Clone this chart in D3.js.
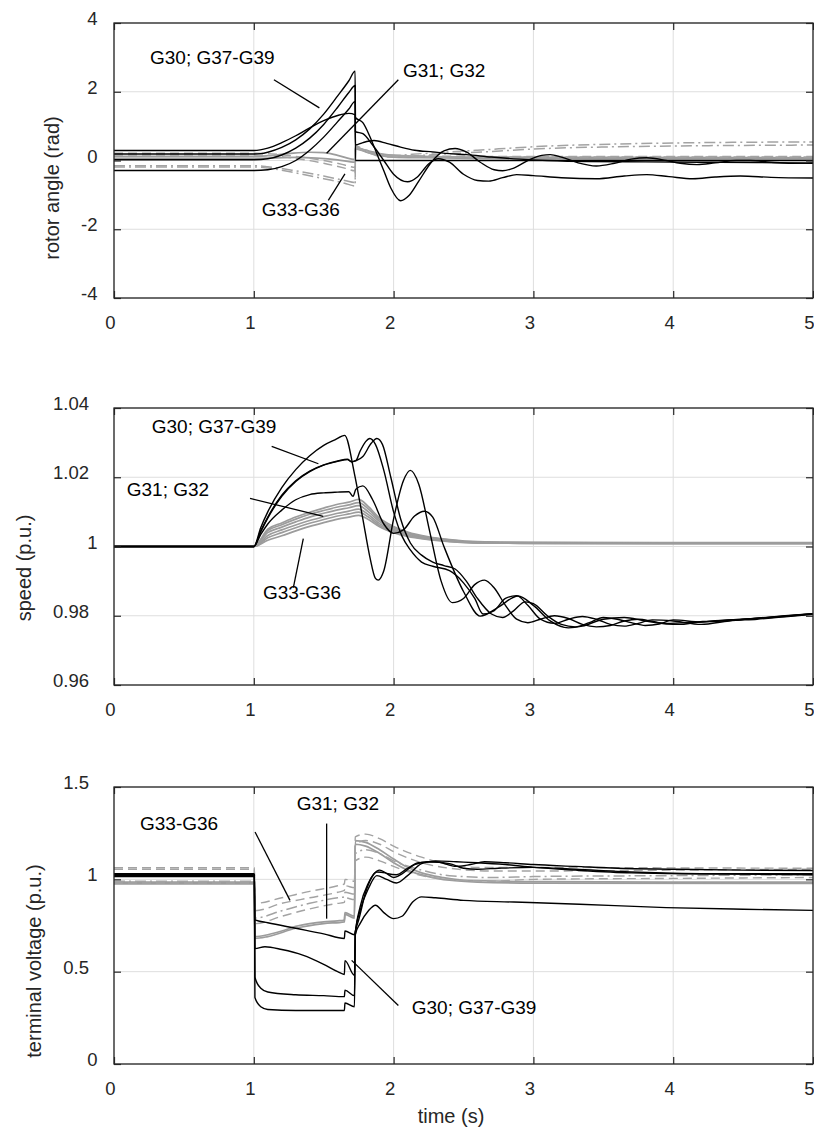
<!DOCTYPE html>
<html>
<head>
<meta charset="utf-8">
<script src="https://cdn.jsdelivr.net/npm/d3@7"></script>
<style>
  body { margin: 0; background: #fff; }
  text { font-family: "Liberation Sans", Arial, Helvetica, sans-serif; }
</style>
</head>
<body>
<svg id="fig" width="814" height="1132"></svg>
<script>
// ---------- tick values ----------
const timeTicks  = [0, 1, 2, 3, 4, 5];
const angleTicks = [-4, -2, 0, 2, 4];
const speedTicks = [0.96, 0.98, 1, 1.02, 1.04];
const voltTicks  = [0, 0.5, 1, 1.5];

// ---------- rotor angle (rad) vs time (s) ----------
const angleGen30 = [[0,0.19],[1.0,0.19],[1.05,0.2],[1.1,0.24],[1.2,0.38],[1.3,0.6],[1.4,0.92],[1.5,1.35],[1.6,1.88],[1.68,2.32],[1.725,2.6],[1.727,0.0],[3,0.0],[5,0.0]];
const angleGen37 = [[0,0.02],[1.0,0.02],[1.1,0.05],[1.2,0.16],[1.3,0.36],[1.4,0.65],[1.5,1.05],[1.6,1.55],[1.68,1.98],[1.725,2.18],[1.727,1.25],[1.78,1.1],[1.83,0.7],[1.88,0.2],[1.93,-0.3],[1.98,-0.8],[2.05,-1.17],[2.11,-1.02],[2.18,-0.6],[2.27,-0.05],[2.36,0.28],[2.44,0.35],[2.52,0.25],[2.62,-0.05],[2.72,-0.27],[2.78,-0.3],[2.86,-0.22],[2.97,0.02],[3.06,0.15],[3.12,0.17],[3.2,0.1],[3.32,-0.07],[3.45,-0.16],[3.58,-0.08],[3.7,0.04],[3.81,0.08],[3.95,0.0],[4.05,-0.08],[4.17,-0.12],[4.3,-0.07],[4.45,0.0],[4.55,0.0],[4.7,-0.05],[4.85,-0.08],[5,-0.07]];
const angleGen38 = [[0,-0.29],[1.0,-0.29],[1.1,-0.27],[1.2,-0.18],[1.3,0.0],[1.4,0.3],[1.5,0.68],[1.6,1.13],[1.68,1.5],[1.725,1.72],[1.727,0.84],[1.78,0.78],[1.85,0.45],[1.93,0.0],[2.0,-0.4],[2.1,-0.62],[2.17,-0.48],[2.25,-0.1],[2.32,0.05],[2.4,-0.05],[2.5,-0.4],[2.6,-0.58],[2.68,-0.6],[2.78,-0.5],[2.88,-0.41],[3.0,-0.44],[3.2,-0.5],[3.45,-0.53],[3.65,-0.45],[3.81,-0.41],[3.97,-0.47],[4.14,-0.53],[4.3,-0.48],[4.48,-0.45],[4.7,-0.49],[5,-0.51]];
const angleGen39 = [[0,0.29],[1.0,0.29],[1.1,0.36],[1.2,0.52],[1.3,0.72],[1.4,0.95],[1.5,1.16],[1.6,1.31],[1.68,1.37],[1.725,1.33],[1.727,0.45],[1.78,0.52],[1.86,0.58],[1.95,0.5],[2.05,0.39],[2.15,0.3],[2.28,0.25],[2.4,0.2],[2.52,0.17],[2.7,0.1],[2.9,0.04],[3.1,0.0],[3.4,-0.03],[3.8,-0.04],[4.2,-0.05],[4.6,-0.06],[5,-0.08]];
const angleGen31 = [[0,0.12],[1.0,0.12],[1.1,0.14],[1.25,0.2],[1.4,0.24],[1.5,0.23],[1.6,0.15],[1.725,0.03],[1.727,0.38],[1.8,0.3],[1.9,0.2],[2.0,0.15],[2.2,0.12],[2.6,0.1],[3.5,0.09],[5,0.08]];
const angleGen32 = [[0,0.06],[1.0,0.06],[1.1,0.07],[1.3,0.09],[1.45,0.07],[1.6,0.02],[1.725,-0.05],[1.727,0.34],[1.8,0.25],[1.9,0.15],[2.0,0.1],[2.2,0.08],[2.6,0.06],[3.5,0.05],[5,0.05]];
const angleGen33 = [[0,0.21],[1,0.21],[1.1,0.2],[1.3,0.12],[1.5,0.0],[1.65,-0.13],[1.725,-0.2],[1.727,0.38],[1.8,0.3],[1.9,0.2],[2.0,0.15],[2.3,0.13],[2.8,0.12],[3.5,0.12],[5,0.12]];
const angleGen34 = [[0,0.16],[1,0.16],[1.1,0.15],[1.3,0.06],[1.5,-0.08],[1.65,-0.22],[1.725,-0.3],[1.727,0.35],[1.8,0.26],[1.9,0.17],[2.0,0.12],[2.3,0.1],[2.8,0.1],[3.5,0.1],[5,0.1]];
const angleGen35 = [[0,-0.15],[1,-0.15],[1.1,-0.18],[1.3,-0.3],[1.5,-0.45],[1.65,-0.58],[1.725,-0.64],[1.727,0.42],[1.8,0.3],[1.9,0.16],[2.0,0.15],[2.2,0.2],[2.6,0.3],[3.1,0.42],[3.6,0.48],[4.2,0.52],[5,0.54]];
const angleGen36 = [[0,-0.19],[1,-0.19],[1.1,-0.22],[1.3,-0.36],[1.5,-0.53],[1.65,-0.66],[1.725,-0.74],[1.727,0.38],[1.8,0.26],[1.9,0.12],[2.0,0.1],[2.2,0.15],[2.6,0.24],[3.1,0.35],[3.6,0.4],[4.2,0.43],[5,0.45]];

// ---------- speed (p.u.) vs time (s) ----------
const speedGen30 = [[0,1],[1,1],[1.05,1.0055],[1.1,1.0100],[1.2,1.0170],[1.3,1.0222],[1.4,1.0262],[1.5,1.0292],[1.58,1.0308],[1.65,1.0321],[1.72,1.021],[1.78,1.008],[1.83,0.997],[1.87,0.9908],[1.89,0.9903],[1.93,0.993],[2.0,1.008],[2.07,1.019],[2.12,1.022],[2.18,1.018],[2.26,1.004],[2.34,0.99],[2.42,0.9838],[2.5,0.985],[2.58,0.989],[2.65,0.9903],[2.72,0.988],[2.8,0.983],[2.88,0.979],[2.96,0.978],[3.05,0.979],[3.15,0.980],[3.25,0.9792],[3.35,0.9775],[3.45,0.9768],[3.55,0.9772],[3.65,0.9785],[3.75,0.979],[3.85,0.9784],[3.95,0.9776],[4.05,0.9775],[4.15,0.978],[4.3,0.9785],[4.5,0.979],[4.7,0.9795],[4.85,0.980],[5,0.9806]];
const speedGen37 = [[0,1],[1,1],[1.05,1.0045],[1.1,1.0085],[1.2,1.0148],[1.3,1.0190],[1.4,1.0218],[1.5,1.0236],[1.6,1.0247],[1.67,1.0252],[1.7,1.0245],[1.73,1.0248],[1.76,1.0275],[1.8,1.0303],[1.83,1.0312],[1.87,1.0295],[1.93,1.022],[2.0,1.01],[2.06,1.003],[2.12,0.999],[2.2,0.9955],[2.28,0.9943],[2.4,0.993],[2.5,0.9895],[2.58,0.985],[2.64,0.9805],[2.72,0.9815],[2.8,0.985],[2.88,0.9858],[2.96,0.983],[3.05,0.979],[3.15,0.9778],[3.25,0.979],[3.35,0.9798],[3.45,0.979],[3.55,0.9775],[3.65,0.977],[3.75,0.9778],[3.85,0.9788],[4.0,0.9785],[4.2,0.9775],[4.4,0.9785],[4.6,0.979],[4.8,0.9797],[5,0.9804]];
const speedGen38 = [[0,1],[1,1],[1.05,1.0043],[1.1,1.0082],[1.2,1.0145],[1.3,1.0188],[1.4,1.0216],[1.5,1.0235],[1.6,1.0246],[1.67,1.0251],[1.7,1.0244],[1.73,1.0248],[1.78,1.026],[1.84,1.0298],[1.88,1.0312],[1.92,1.0295],[1.98,1.02],[2.05,1.008],[2.12,1.001],[2.2,0.9975],[2.28,0.9955],[2.36,0.9945],[2.44,0.9935],[2.52,0.99],[2.6,0.985],[2.7,0.9805],[2.78,0.9795],[2.86,0.9815],[2.94,0.984],[3.0,0.9835],[3.1,0.980],[3.2,0.9775],[3.3,0.9768],[3.4,0.978],[3.5,0.9795],[3.6,0.979],[3.7,0.978],[3.8,0.9772],[3.9,0.9776],[4.0,0.9788],[4.2,0.9782],[4.4,0.9786],[4.6,0.9793],[4.8,0.980],[5,0.9806]];
const speedGen39 = [[0,1],[1,1],[1.05,1.0035],[1.1,1.0065],[1.2,1.0105],[1.3,1.0135],[1.4,1.015],[1.5,1.0155],[1.6,1.0157],[1.68,1.0158],[1.71,1.0145],[1.73,1.0165],[1.78,1.0175],[1.85,1.0135],[1.93,1.0065],[2.0,1.0038],[2.07,1.0048],[2.15,1.0088],[2.22,1.0102],[2.28,1.0085],[2.36,1.0],[2.5,0.987],[2.62,0.9799],[2.75,0.9825],[2.89,0.9857],[3.0,0.983],[3.12,0.9785],[3.25,0.9765],[3.35,0.977],[3.5,0.979],[3.65,0.9795],[3.8,0.9785],[3.95,0.9778],[4.1,0.978],[4.3,0.9786],[4.5,0.979],[4.7,0.9796],[5,0.9806]];
const speedGen31 = [[0,1],[1,1],[1.1,1.0050],[1.2,1.0068],[1.3,1.0085],[1.4,1.0099],[1.5,1.0111],[1.6,1.0122],[1.68,1.0128],[1.75,1.0136],[1.82,1.0115],[1.9,1.0082],[2.0,1.0058],[2.1,1.0042],[2.25,1.0028],[2.4,1.002],[2.6,1.0014],[3,1.0012],[4,1.0011],[5,1.0011]];
const speedGen32 = [[0,1],[1,1],[1.1,1.0046],[1.2,1.0063],[1.3,1.0079],[1.4,1.0093],[1.5,1.0104],[1.6,1.0114],[1.68,1.0120],[1.75,1.0127],[1.82,1.0108],[1.9,1.0077],[2.0,1.0054],[2.1,1.0039],[2.25,1.0026],[2.4,1.0019],[2.6,1.0013],[3,1.0011],[4,1.001],[5,1.001]];
const speedGen33 = [[0,1],[1,1],[1.1,1.0040],[1.2,1.0056],[1.3,1.0071],[1.4,1.0085],[1.5,1.0096],[1.6,1.0106],[1.68,1.0112],[1.75,1.0118],[1.82,1.0100],[1.9,1.0072],[2.0,1.0050],[2.1,1.0036],[2.25,1.0024],[2.4,1.0017],[2.6,1.0012],[3,1.001],[4,1.001],[5,1.001]];
const speedGen34 = [[0,1],[1,1],[1.1,1.0032],[1.2,1.0048],[1.3,1.0062],[1.4,1.0075],[1.5,1.0086],[1.6,1.0096],[1.68,1.0102],[1.75,1.0108],[1.82,1.0092],[1.9,1.0066],[2.0,1.0046],[2.1,1.0033],[2.25,1.0022],[2.4,1.0016],[2.6,1.0011],[3,1.001],[4,1.0009],[5,1.0009]];
const speedGen35 = [[0,1],[1,1],[1.1,1.0025],[1.2,1.0040],[1.3,1.0054],[1.4,1.0067],[1.5,1.0078],[1.6,1.0088],[1.68,1.0094],[1.75,1.0099],[1.82,1.0085],[1.9,1.0061],[2.0,1.0043],[2.1,1.0031],[2.25,1.0021],[2.4,1.0015],[2.6,1.0011],[3,1.0009],[4,1.0009],[5,1.0009]];
const speedGen36 = [[0,1],[1,1],[1.1,1.0018],[1.2,1.0031],[1.3,1.0045],[1.4,1.0058],[1.5,1.0069],[1.6,1.0079],[1.68,1.0085],[1.75,1.0090],[1.82,1.0078],[1.9,1.0057],[2.0,1.0040],[2.1,1.0029],[2.25,1.002],[2.4,1.0014],[2.6,1.001],[3,1.0009],[4,1.0008],[5,1.0008]];

// ---------- terminal voltage (p.u.) vs time (s) ----------
const voltGen30 = [[0,1.03],[1.004,1.03],[1.008,0.78],[1.1,0.765],[1.3,0.735],[1.5,0.705],[1.648,0.68],[1.652,0.72],[1.72,0.70],[1.726,0.72],[1.75,0.78],[1.8,0.93],[1.86,1.03],[1.9,1.05],[1.96,1.03],[2.02,1.025],[2.1,1.06],[2.18,1.09],[2.3,1.095],[2.45,1.07],[2.55,1.08],[2.65,1.095],[2.8,1.09],[3.0,1.08],[3.3,1.07],[3.6,1.06],[4,1.055],[4.5,1.05],[5,1.048]];
const voltGen37 = [[0,1.02],[1.004,1.02],[1.008,0.625],[1.08,0.635],[1.2,0.62],[1.35,0.59],[1.5,0.54],[1.6,0.5],[1.648,0.485],[1.652,0.56],[1.72,0.48],[1.726,0.70],[1.76,0.85],[1.82,0.98],[1.88,1.04],[1.94,1.035],[2.0,1.01],[2.06,1.03],[2.15,1.08],[2.25,1.095],[2.4,1.085],[2.5,1.06],[2.6,1.055],[2.75,1.06],[3.0,1.065],[3.3,1.055],[3.7,1.04],[4.2,1.03],[5,1.025]];
const voltGen38 = [[0,1.025],[1.004,1.025],[1.008,0.47],[1.05,0.41],[1.1,0.39],[1.3,0.375],[1.5,0.37],[1.648,0.365],[1.652,0.40],[1.72,0.37],[1.726,0.71],[1.76,0.83],[1.82,0.95],[1.88,1.02],[1.95,1.0],[2.02,0.98],[2.1,1.02],[2.2,1.085],[2.3,1.1],[2.45,1.095],[2.6,1.09],[2.8,1.08],[3.0,1.065],[3.3,1.05],[3.7,1.035],[4.2,1.03],[5,1.03]];
const voltGen39 = [[0,1.015],[1.004,1.015],[1.008,0.36],[1.05,0.31],[1.1,0.295],[1.3,0.29],[1.5,0.29],[1.648,0.29],[1.652,0.33],[1.72,0.31],[1.726,0.70],[1.76,0.76],[1.82,0.83],[1.87,0.86],[1.93,0.82],[2.0,0.787],[2.06,0.8],[2.14,0.88],[2.2,0.905],[2.3,0.9],[2.5,0.886],[2.86,0.877],[3.33,0.865],[3.95,0.847],[4.5,0.838],[5,0.832]];
const voltGen31 = [[0,0.985],[1.004,0.985],[1.008,0.69],[1.1,0.70],[1.2,0.72],[1.3,0.745],[1.4,0.76],[1.5,0.77],[1.6,0.775],[1.648,0.78],[1.652,0.82],[1.72,0.80],[1.726,1.21],[1.8,1.2],[1.9,1.16],[2.0,1.11],[2.1,1.065],[2.2,1.035],[2.35,1.01],[2.5,0.995],[3,0.988],[4,0.985],[5,0.985]];
const voltGen32 = [[0,0.975],[1.004,0.975],[1.008,0.68],[1.1,0.69],[1.3,0.735],[1.5,0.76],[1.648,0.77],[1.652,0.81],[1.72,0.79],[1.726,1.19],[1.8,1.18],[1.9,1.14],[2.0,1.09],[2.1,1.05],[2.25,1.015],[2.4,0.995],[2.6,0.985],[3,0.98],[5,0.978]];
const voltGen33 = [[0,1.063],[1.004,1.063],[1.008,0.87],[1.2,0.9],[1.4,0.935],[1.6,0.965],[1.648,0.975],[1.652,1.0],[1.72,0.99],[1.726,1.23],[1.8,1.245],[1.9,1.22],[2.0,1.18],[2.2,1.12],[2.4,1.08],[2.6,1.065],[3,1.065],[4,1.062],[5,1.06]];
const voltGen34 = [[0,1.055],[1.004,1.055],[1.008,0.83],[1.2,0.87],[1.4,0.9],[1.6,0.93],[1.648,0.94],[1.652,0.965],[1.72,0.955],[1.726,1.19],[1.8,1.21],[1.9,1.19],[2.0,1.15],[2.2,1.09],[2.4,1.06],[2.7,1.045],[3,1.045],[4,1.05],[5,1.055]];
const voltGen35 = [[0,0.99],[1.004,0.99],[1.008,0.79],[1.2,0.83],[1.4,0.87],[1.6,0.9],[1.648,0.905],[1.652,0.93],[1.72,0.92],[1.726,1.14],[1.8,1.16],[1.9,1.14],[2.0,1.1],[2.2,1.05],[2.4,1.02],[2.7,1.01],[3,1.015],[4,1.02],[5,1.025]];
const voltGen36 = [[0,0.98],[1.004,0.98],[1.008,0.76],[1.2,0.8],[1.4,0.84],[1.6,0.87],[1.648,0.875],[1.652,0.9],[1.72,0.89],[1.726,1.1],[1.8,1.12],[1.9,1.1],[2.0,1.07],[2.2,1.02],[2.4,1.0],[2.7,0.99],[3,1.0],[4,1.005],[5,1.01]];

// ---------- line styles ----------
const STYLE = {
  black:   { stroke: "#000",    width: 1.4, dash: null },
  grey:    { stroke: "#9c9c9c", width: 1.7, dash: null },
  dashed:  { stroke: "#a3a3a3", width: 1.4, dash: "9,5" },
  dashdot: { stroke: "#a3a3a3", width: 1.5, dash: "11,4,2,4" }
};

const panels = [
  {
    top: 23, bottom: 298, domain: [-4, 4], ticks: angleTicks,
    ylabel: "rotor angle (rad)", ylabelX: 52, ylabelY: 188,
    series: [
      [angleGen31, "grey"], [angleGen32, "grey"],
      [angleGen33, "dashed"], [angleGen34, "dashed"],
      [angleGen35, "dashdot"], [angleGen36, "dashdot"],
      [angleGen30, "black"], [angleGen37, "black"], [angleGen38, "black"], [angleGen39, "black"]
    ],
    notes: [
      { text: "G30; G37-G39", at: [0.2575, 2.99], from: [1.144, 2.35], to: [1.469, 1.53] },
      { text: "G31; G32",     at: [2.067, 2.62],  from: [2.034, 2.35], to: [1.521, 0.21] },
      { text: "G33-G36",      at: [1.057, -1.43], from: [1.533, -1.16], to: [1.652, -0.39] }
    ]
  },
  {
    top: 408, bottom: 685, domain: [0.96, 1.04], ticks: speedTicks,
    ylabel: "speed (p.u.)", ylabelX: 24, ylabelY: 568,
    series: [
      [speedGen31, "grey"], [speedGen32, "grey"], [speedGen33, "grey"],
      [speedGen34, "grey"], [speedGen35, "grey"], [speedGen36, "grey"],
      [speedGen30, "black"], [speedGen37, "black"], [speedGen38, "black"], [speedGen39, "black"]
    ],
    notes: [
      { text: "G30; G37-G39", at: [0.27, 1.0347],  from: [1.128, 1.0289], to: [1.462, 1.0239] },
      { text: "G31; G32",     at: [0.091, 1.01645], from: [0.973, 1.0139], to: [1.497, 1.0087] },
      { text: "G33-G36",      at: [1.066, 0.98664], from: [1.283, 0.9881], to: [1.354, 1.0023] }
    ]
  },
  {
    top: 787, bottom: 1064, domain: [0, 1.5], ticks: voltTicks,
    ylabel: "terminal voltage (p.u.)", ylabelX: 34, ylabelY: 961,
    series: [
      [voltGen31, "grey"], [voltGen32, "grey"],
      [voltGen33, "dashed"], [voltGen34, "dashed"],
      [voltGen35, "dashdot"], [voltGen36, "dashed"],
      [voltGen30, "black"], [voltGen37, "black"], [voltGen38, "black"], [voltGen39, "black"]
    ],
    notes: [
      { text: "G33-G36",      at: [0.186, 1.305], from: [1.009, 1.256], to: [1.259, 0.886] },
      { text: "G31; G32",     at: [1.307, 1.41],  from: [1.521, 1.302], to: [1.521, 0.787] },
      { text: "G30; G37-G39", at: [2.13, 0.308],  from: [1.70, 0.561],  to: [2.034, 0.317] }
    ]
  }
];

const svg = d3.select("#fig");
const LEFT = 114, RIGHT = 813;
const x = d3.scaleLinear().domain([0, 5]).range([LEFT, RIGHT]);
const AXIS = "#262626";

panels.forEach((p, i) => {
  const y = d3.scaleLinear().domain(p.domain).range([p.bottom, p.top]);
  const g = svg.append("g");

  // grid
  g.append("g").selectAll("line").data(timeTicks).join("line")
    .attr("x1", d => x(d)).attr("x2", d => x(d))
    .attr("y1", p.top).attr("y2", p.bottom)
    .attr("stroke", "#dedede").attr("stroke-width", 1);
  g.append("g").selectAll("line").data(p.ticks).join("line")
    .attr("x1", LEFT).attr("x2", RIGHT)
    .attr("y1", d => y(d)).attr("y2", d => y(d))
    .attr("stroke", "#dedede").attr("stroke-width", 1);

  // clip
  const clipId = "clip" + i;
  svg.append("clipPath").attr("id", clipId).append("rect")
    .attr("x", LEFT).attr("y", p.top).attr("width", RIGHT - LEFT).attr("height", p.bottom - p.top);

  const line = d3.line().x(d => x(d[0])).y(d => y(d[1])).curve(d3.curveMonotoneX);
  const lines = g.append("g").attr("clip-path", `url(#${clipId})`);
  p.series.forEach(([data, st]) => {
    const s = STYLE[st];
    lines.append("path").attr("d", line(data))
      .attr("fill", "none").attr("stroke", s.stroke).attr("stroke-width", s.width)
      .attr("stroke-dasharray", s.dash).attr("stroke-linejoin", "round");
  });

  // axes with inward ticks on all four sides
  const tick = 7;
  const bottomAx = d3.axisBottom(x).tickValues(timeTicks).tickSize(-tick).tickFormat("");
  const topAx = d3.axisTop(x).tickValues(timeTicks).tickSize(-tick).tickFormat("");
  const leftAx = d3.axisLeft(y).tickValues(p.ticks).tickSize(-tick).tickFormat("");
  const rightAx = d3.axisRight(y).tickValues(p.ticks).tickSize(-tick).tickFormat("");
  [[bottomAx, `translate(0,${p.bottom})`], [topAx, `translate(0,${p.top})`],
   [leftAx, `translate(${LEFT},0)`], [rightAx, `translate(${RIGHT},0)`]].forEach(([ax, tr]) => {
    const a = g.append("g").attr("transform", tr).call(ax);
    a.select(".domain").remove();
    a.selectAll("line").attr("stroke", AXIS).attr("stroke-width", 1.2);
  });
  g.append("rect").attr("x", LEFT).attr("y", p.top)
    .attr("width", RIGHT - LEFT).attr("height", p.bottom - p.top)
    .attr("fill", "none").attr("stroke", AXIS).attr("stroke-width", 1.3);

  // tick labels
  g.append("g").selectAll("text").data(timeTicks).join("text")
    .attr("x", d => x(d) - 3.5).attr("y", p.bottom + 30.5)
    .attr("text-anchor", "middle").attr("font-size", 18.5).attr("fill", AXIS)
    .text(d => String(d));
  g.append("g").selectAll("text").data(p.ticks).join("text")
    .attr("x", d => String(d).includes(".") ? 89 : 97.5).attr("y", d => y(d) + 2)
    .attr("text-anchor", "end").attr("font-size", 18.5).attr("fill", AXIS)
    .text(d => String(d));

  // y label
  g.append("text")
    .attr("transform", `translate(${p.ylabelX},${p.ylabelY}) rotate(-90)`)
    .attr("text-anchor", "middle").attr("dominant-baseline", "central")
    .attr("font-size", 20).attr("fill", AXIS).text(p.ylabel);

  // annotations with leader lines
  p.notes.forEach(n => {
    g.append("line")
      .attr("x1", x(n.from[0])).attr("y1", y(n.from[1]))
      .attr("x2", x(n.to[0])).attr("y2", y(n.to[1]))
      .attr("stroke", "#000").attr("stroke-width", 1.3);
    g.append("text").attr("x", x(n.at[0])).attr("y", y(n.at[1]))
      .attr("dominant-baseline", "central").attr("font-size", 19).attr("fill", "#000")
      .text(n.text);
  });
});

// x-axis title
svg.append("text").attr("x", 451).attr("y", 1123).attr("text-anchor", "middle")
  .attr("font-size", 20).attr("fill", AXIS).text("time (s)");
</script>
</body>
</html>
